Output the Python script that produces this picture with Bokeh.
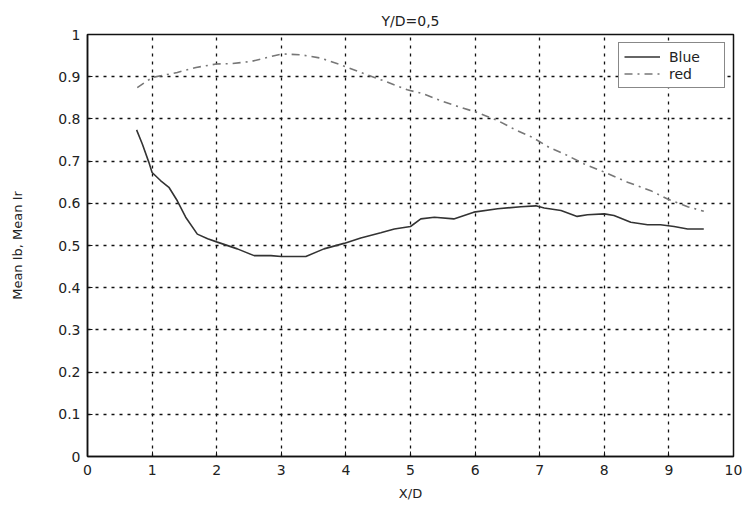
from bokeh.plotting import figure
from bokeh.models import FixedTicker, Range1d, Legend, LegendItem
from bokeh.embed import file_html
from bokeh.resources import INLINE

blue_x = [0.76, 0.85, 0.95, 1.0, 1.13, 1.26, 1.39, 1.52, 1.70, 1.86, 2.01, 2.32, 2.58, 2.84, 3.0, 3.38,
          3.66, 3.97, 4.23, 4.54, 4.75, 5.0, 5.16, 5.37, 5.67, 5.98, 6.35, 6.71, 6.94, 7.07, 7.33, 7.58,
          7.74, 8.0, 8.15, 8.41, 8.67, 8.87, 9.08, 9.29, 9.54]
blue_y = [0.774, 0.740, 0.697, 0.673, 0.654, 0.638, 0.606, 0.567, 0.527, 0.516, 0.508, 0.492, 0.476,
          0.476, 0.474, 0.474, 0.492, 0.505, 0.518, 0.530, 0.539, 0.545, 0.563, 0.567, 0.563, 0.579,
          0.587, 0.592, 0.594, 0.589, 0.583, 0.569, 0.573, 0.575, 0.571, 0.555, 0.549, 0.549, 0.545,
          0.539, 0.539]

red_x = [0.77, 1.0, 1.39, 1.68, 1.99, 2.22, 2.53, 2.79, 3.02, 3.30, 3.61, 3.89, 4.02, 4.23, 4.59, 4.95,
         5.21, 5.47, 5.78, 6.04, 6.35, 6.60, 6.89, 7.15, 7.38, 7.69, 7.95, 8.36, 8.72, 8.98, 9.29, 9.54]
red_y = [0.874, 0.898, 0.910, 0.922, 0.930, 0.931, 0.936, 0.946, 0.954, 0.952, 0.944, 0.930, 0.922,
         0.910, 0.890, 0.869, 0.859, 0.843, 0.827, 0.815, 0.796, 0.776, 0.756, 0.732, 0.717, 0.693,
         0.677, 0.650, 0.630, 0.610, 0.592, 0.581]

x_ticks = [0, 1, 2, 3, 4, 5, 6, 7, 8, 9, 10]
y_ticks = [0, 0.1, 0.2, 0.3, 0.4, 0.5, 0.6, 0.7, 0.8, 0.9, 1]
y_tick_labels = ["0", "0.1", "0.2", "0.3", "0.4", "0.5", "0.6", "0.7", "0.8", "0.9", "1"]

title_text = "Y/D=0,5"
x_label = "X/D"
y_label = "Mean Ib, Mean Ir"
series_names = ["Blue", "red"]

FONT = "DejaVu Sans"
FS = "14px"

p = figure(width=743, height=505, output_backend="svg", toolbar_location=None,
           x_range=Range1d(0, 10), y_range=Range1d(0, 1),
           min_border_left=87, min_border_right=10, min_border_top=34, min_border_bottom=49,
           x_axis_label=x_label, y_axis_label=y_label)

p.title.text = title_text
p.title.align = "center"
p.title.text_font = FONT
p.title.text_font_size = "14px"
p.title.text_font_style = "normal"
p.title.text_color = "#222222"
p.title.standoff = 12

p.background_fill_color = "white"
p.border_fill_color = "white"
p.outline_line_color = "#111111"
p.outline_line_width = 1.5

# grid
for g in (p.xgrid, p.ygrid):
    g.grid_line_color = "#111111"
    g.grid_line_dash = "3 5"
    g.grid_line_width = 1.3
p.xgrid.ticker = FixedTicker(ticks=x_ticks)
p.ygrid.ticker = FixedTicker(ticks=y_ticks)

def style_axis(ax, ticks):
    ax.ticker = FixedTicker(ticks=ticks)
    ax.axis_line_color = "#111111"
    ax.axis_line_width = 1.5
    ax.major_tick_line_color = "#111111"
    ax.major_tick_in = 5
    ax.major_tick_out = 0
    ax.minor_tick_line_color = None
    ax.major_label_text_font = FONT
    ax.major_label_text_font_size = FS
    ax.major_label_text_color = "#222222"
    ax.axis_label_text_font = FONT
    ax.axis_label_text_font_size = "13px"
    ax.axis_label_text_font_style = "normal"
    ax.axis_label_text_color = "#222222"

style_axis(p.xaxis[0], x_ticks)
style_axis(p.yaxis[0], y_ticks)
p.yaxis[0].major_label_overrides = {v: s for v, s in zip(y_ticks, y_tick_labels)}
p.xaxis[0].major_label_standoff = 8
p.yaxis[0].major_label_standoff = 7
p.xaxis[0].axis_label_standoff = 8
p.yaxis[0].axis_label_standoff = 30

r_blue = p.line(blue_x, blue_y, line_color="#333333", line_width=1.6)
r_red = p.line(red_x, red_y, line_color="#777777", line_width=1.6, line_dash="8 5 2 5")

legend = Legend(items=[LegendItem(label=series_names[0], renderers=[r_blue]),
                       LegendItem(label=series_names[1], renderers=[r_red])],
                location="top_right")
legend.margin = 8
legend.padding = 5
legend.spacing = 0
legend.glyph_width = 36
legend.glyph_height = 17
legend.label_width = 50
legend.label_standoff = 9
legend.label_text_font = FONT
legend.label_text_font_size = "14px"
legend.label_text_color = "#222222"
legend.border_line_color = "#111111"
legend.border_line_width = 1.5
legend.background_fill_alpha = 1.0
p.add_layout(legend, "center")

open("out.html", "w").write(file_html(p, INLINE))
